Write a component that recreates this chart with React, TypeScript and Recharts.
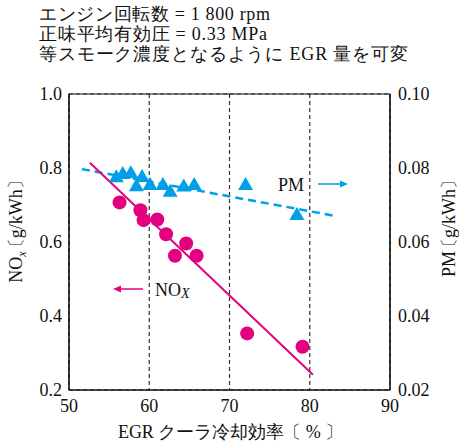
import React from 'react';
import {
  ComposedChart,
  Scatter,
  XAxis,
  YAxis,
  CartesianGrid,
  ReferenceArea,
} from 'recharts';

const FONT = '"Liberation Serif", serif';
const MAGENTA = '#E4007F';
const CYAN = '#00A0E9';

// EGR cooler efficiency [%] vs NOx [g/kWh]
const noxEff = [56.3, 58.9, 59.3, 61.0, 62.1, 64.6, 63.2, 65.9, 72.2, 79.1];
const noxVal = [0.707, 0.686, 0.659, 0.661, 0.621, 0.596, 0.563, 0.563, 0.353, 0.317];

// EGR cooler efficiency [%] vs PM [g/kWh]
const pmEff = [55.9, 56.7, 57.7, 59.1, 58.4, 60.1, 61.7, 62.6, 64.3, 65.6, 72.0, 78.4];
const pmVal = [0.0775, 0.0784, 0.0786, 0.0776, 0.0751, 0.0754, 0.0754, 0.0736, 0.075, 0.0754, 0.0754, 0.0673];

// fitted trend lines (end points)
const noxFitEff = [52.6, 80.4];
const noxFitVal = [0.814, 0.241];
const pmFitEff = [51.6, 83.3];
const pmFitVal = [0.0797, 0.067];

const xTicks = [50, 60, 70, 80, 90];
const leftTicks = [0.2, 0.4, 0.6, 0.8, 1.0];
const rightTicks = [0.02, 0.04, 0.06, 0.08, 0.1];

const zip = (xs: number[], ys: number[]) => xs.map((x, i) => ({ x, y: ys[i] }));

const noxData = zip(noxEff, noxVal);
const pmData = zip(pmEff, pmVal);
const noxFit = zip(noxFitEff, noxFitVal);
const pmFit = zip(pmFitEff, pmFitVal);

const Circle = (props: any) => (
  <circle cx={props.cx} cy={props.cy} r={7} fill={MAGENTA} />
);

const Triangle = (props: any) => {
  const { cx, cy } = props;
  return (
    <polygon
      points={`${cx},${cy - 8} ${cx - 7.5},${cy + 5} ${cx + 7.5},${cy + 5}`}
      fill={CYAN}
    />
  );
};

const NoShape = () => <g />;

const tickStyle = { fontFamily: FONT, fontSize: 18, fill: '#111' };

export default function App() {
  return (
    <div style={{ position: 'absolute', left: 0, top: 0, width: 459, height: 447, background: '#fff' }}>
      <ComposedChart
        width={459}
        height={447}
        margin={{ top: 94, right: 0, bottom: 0, left: 0 }}
      >
        <CartesianGrid stroke="#333" strokeDasharray="4 3" strokeWidth={1.2} />
        <XAxis
          dataKey="x"
          type="number"
          domain={[50, 90]}
          ticks={xTicks}
          height={57}
          tickLine={false}
          tickSize={0}
          tickMargin={9}
          axisLine={{ stroke: '#111' }}
          tick={tickStyle}
          allowDataOverflow
        />
        <YAxis
          yAxisId="left"
          dataKey="y"
          type="number"
          domain={[0.2, 1.0]}
          ticks={leftTicks}
          width={69}
          tickLine={false}
          tickSize={0}
          tickMargin={7}
          axisLine={{ stroke: '#111' }}
          tick={tickStyle}
          tickFormatter={(v: number) => v.toFixed(1)}
          allowDataOverflow
        />
        <YAxis
          yAxisId="right"
          orientation="right"
          dataKey="y"
          type="number"
          domain={[0.02, 0.1]}
          ticks={rightTicks}
          width={69}
          tickLine={false}
          tickSize={0}
          tickMargin={8}
          axisLine={{ stroke: '#111' }}
          tick={tickStyle}
          tickFormatter={(v: number) => v.toFixed(2)}
          allowDataOverflow
        />
        <ReferenceArea
          yAxisId="left"
          x1={50}
          x2={90}
          y1={0.2}
          y2={1.0}
          fill="none"
          stroke="#111"
          strokeWidth={1.2}
          ifOverflow="visible"
        />
        <Scatter
          yAxisId="right"
          data={pmFit}
          line={{ stroke: CYAN, strokeWidth: 2.5, strokeDasharray: '8 5' }}
          lineType="joint"
          shape={NoShape}
          isAnimationActive={false}
        />
        <Scatter
          yAxisId="left"
          data={noxFit}
          line={{ stroke: MAGENTA, strokeWidth: 2 }}
          lineType="joint"
          shape={NoShape}
          isAnimationActive={false}
        />
        <Scatter yAxisId="right" data={pmData} shape={Triangle} isAnimationActive={false} />
        <Scatter yAxisId="left" data={noxData} shape={Circle} isAnimationActive={false} />
      </ComposedChart>
      <svg
        width={459}
        height={447}
        style={{ position: 'absolute', left: 0, top: 0, pointerEvents: 'none' }}
      >
        <text x={39} y={20} fontSize={18} fontFamily={FONT} fill="#111" textLength={231} lengthAdjust="spacing">
          エンジン回転数 = 1 800 rpm
        </text>
        <text x={39} y={40} fontSize={18} fontFamily={FONT} fill="#111" textLength={228} lengthAdjust="spacing">
          正味平均有効圧 = 0.33 MPa
        </text>
        <text x={39} y={60} fontSize={18} fontFamily={FONT} fill="#111" textLength={369} lengthAdjust="spacing">
          等スモーク濃度となるように EGR 量を可変
        </text>

        <text x={118} y={438} fontSize={18} fontFamily={FONT} fill="#111" textLength={225} lengthAdjust="spacing">
          EGR クーラ冷却効率〔 % 〕
        </text>

        <text transform="translate(22, 227) rotate(-90)" textAnchor="middle" fontSize={18} fontFamily={FONT} fill="#111">
          NO
          <tspan fontSize={12} fontStyle="italic" dy={4}>x</tspan>
          <tspan dy={-4} dx={-5}>〔</tspan>
          <tspan>g/kWh</tspan>
          <tspan>〕</tspan>
        </text>
        <text transform="translate(455, 224) rotate(-90)" textAnchor="middle" fontSize={18} fontFamily={FONT} fill="#111">
          PM<tspan dx={-5}>〔</tspan>
          <tspan>g/kWh</tspan>
          <tspan>〕</tspan>
        </text>

        <text x={278} y={191} fontSize={18} fontFamily={FONT} fill="#111">PM</text>
        <line x1={318} y1={184} x2={342} y2={184} stroke={CYAN} strokeWidth={1.5} />
        <polygon points="348,184 340,180.5 340,187.5" fill={CYAN} />

        <line x1={119} y1={289} x2={143} y2={289} stroke={MAGENTA} strokeWidth={1.5} />
        <polygon points="113,289 121,285.5 121,292.5" fill={MAGENTA} />
        <text x={155} y={296} fontSize={18} fontFamily={FONT} fill="#111">
          NO<tspan fontSize={14} fontStyle="italic" dy={2}>X</tspan>
        </text>
      </svg>
    </div>
  );
}
